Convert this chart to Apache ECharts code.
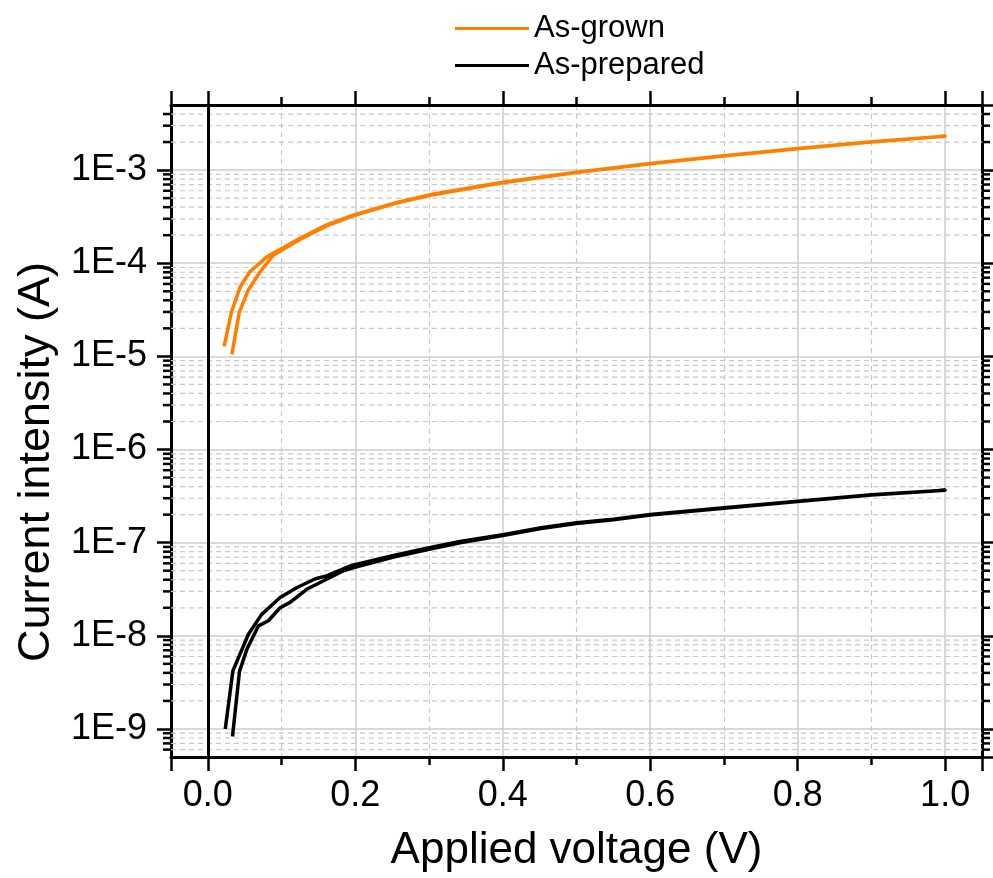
<!DOCTYPE html>
<html><head><meta charset="utf-8">
<script src="https://cdn.jsdelivr.net/npm/echarts@6/dist/echarts.min.js"></script>
<style>html,body{margin:0;padding:0;background:#fff}#c{width:993px;height:878px}</style>
</head><body><div id="c"></div>
<script>
// As-grown sweep (forward branch then return branch)
const asGrownV = [0.022, 0.032, 0.044, 0.057, 0.080, 0.125, 0.161, 0.198, 0.252, 0.306, 0.342, 0.40, 0.50, 0.60, 0.70, 0.80, 0.90, 1.00,
                  1.00, 0.90, 0.80, 0.70, 0.60, 0.50, 0.40, 0.342, 0.306, 0.252, 0.198, 0.161, 0.125, 0.089, 0.071, 0.055, 0.0425, 0.0326];
const asGrownI = [1.28e-5, 3.0e-5, 5.6e-5, 8.1e-5, 1.17e-4, 1.85e-4, 2.58e-4, 3.3e-4, 4.4e-4, 5.55e-4, 6.2e-4, 7.4e-4, 9.5e-4, 1.18e-3, 1.43e-3, 1.71e-3, 2.01e-3, 2.31e-3,
                  2.29e-3, 2.0e-3, 1.70e-3, 1.42e-3, 1.17e-3, 9.4e-4, 7.3e-4, 6.1e-4, 5.45e-4, 4.35e-4, 3.25e-4, 2.52e-4, 1.8e-4, 1.23e-4, 8.1e-5, 5.2e-5, 2.95e-5, 1.05e-5];
// As-prepared sweep
const asPreparedV = [0.0236, 0.0339, 0.055, 0.073, 0.098, 0.121, 0.146, 0.161, 0.195, 0.252, 0.297, 0.342, 0.40, 0.452, 0.50, 0.55, 0.60, 0.70, 0.80, 0.90, 1.00,
                     1.00, 0.90, 0.80, 0.70, 0.60, 0.55, 0.50, 0.452, 0.40, 0.342, 0.297, 0.252, 0.198, 0.184, 0.157, 0.134, 0.112, 0.098, 0.082, 0.0687, 0.053, 0.0429, 0.0334];
const asPreparedI = [1.0e-9, 4.2e-9, 1.04e-8, 1.7e-8, 2.58e-8, 3.3e-8, 4.1e-8, 4.4e-8, 5.7e-8, 7.3e-8, 8.7e-8, 1.03e-7, 1.22e-7, 1.45e-7, 1.64e-7, 1.78e-7, 2.01e-7, 2.37e-7, 2.79e-7, 3.27e-7, 3.66e-7,
                     3.64e-7, 3.24e-7, 2.76e-7, 2.34e-7, 1.98e-7, 1.76e-7, 1.61e-7, 1.42e-7, 1.19e-7, 1.0e-7, 8.4e-8, 7.0e-8, 5.4e-8, 5.0e-8, 3.9e-8, 3.16e-8, 2.3e-8, 2.0e-8, 1.45e-8, 1.28e-8, 7.2e-9, 4.15e-9, 8.3e-10];

const seriesNames = ['As-grown', 'As-prepared'];
const seriesColors = ['#ff8000', '#000000'];
const xRange = [-0.05, 1.05];
const yRange = [5e-10, 5e-3];
const minorMultipliers = [2, 3, 4, 5, 6, 7, 8, 9];
const decades = [-10, -9, -8, -7, -6, -5, -4, -3];

const yMinor = [];
decades.forEach(function (d) {
  minorMultipliers.forEach(function (k) {
    const v = k * Math.pow(10, d);
    if (v > yRange[0] && v < yRange[1]) yMinor.push([0.5, v]);
  });
});

const FONT = 'Liberation Sans';
const pairs = (xs, ys) => xs.map((x, i) => [x, ys[i]]);

const xAxisBase = {
  type: 'value', min: xRange[0], max: xRange[1],
  axisLine: { show: true, onZero: false, lineStyle: { color: '#000', width: 3 } },
  axisTick: { show: true, inside: false, length: 14, lineStyle: { color: '#000', width: 2.5 } },
  minorTick: { show: true, splitNumber: 2, length: 8, lineStyle: { color: '#000', width: 2.5 } }
};

const option = {
  animation: false,
  backgroundColor: '#fff',
  grid: { left: 171, right: 11, top: 105, bottom: 120 },
  legend: {
    data: seriesNames, orient: 'vertical', left: 450, top: 8,
    icon: 'rect', itemWidth: 74, itemHeight: 3, itemGap: 6,
    textStyle: { fontFamily: FONT, fontSize: 31, color: '#000', lineHeight: 31 }
  },
  xAxis: [
    Object.assign({}, xAxisBase, {
      position: 'bottom',
      name: 'Applied voltage (V)', nameLocation: 'middle', nameGap: 72,
      nameTextStyle: { fontFamily: FONT, fontSize: 44, color: '#000', lineHeight: 44 },
      axisLabel: { show: true, fontFamily: FONT, fontSize: 36, color: '#000', margin: 21, lineHeight: 36,
        showMinLabel: false, showMaxLabel: false, formatter: v => v.toFixed(1) },
      splitLine: { show: true, lineStyle: { color: '#cccccc', width: 1.5 } },
      minorSplitLine: { show: true, lineStyle: { color: '#c8c8c8', width: 1.2, type: [5, 4] } }
    }),
    Object.assign({}, xAxisBase, {
      position: 'top',
      axisLabel: { show: false }, splitLine: { show: false }, minorSplitLine: { show: false }
    })
  ],
  yAxis: [
    {
      type: 'log', logBase: 10, min: yRange[0], max: yRange[1], position: 'left',
      name: 'Current intensity (A)', nameLocation: 'middle', nameGap: 112,
      nameTextStyle: { fontFamily: FONT, fontSize: 45, color: '#000', lineHeight: 45, padding: [0, 62, 0, 0] },
      axisLine: { show: true, onZero: false, lineStyle: { color: '#000', width: 3 } },
      axisTick: { show: true, inside: false, length: 14, lineStyle: { color: '#000', width: 2.5 } },
      minorTick: { show: false },
      axisLabel: { show: true, fontFamily: FONT, fontSize: 36, color: '#000', margin: 24,
        showMinLabel: false, showMaxLabel: false,
        formatter: v => '1E' + Math.round(Math.log10(v)) },
      splitLine: { show: true, lineStyle: { color: '#cccccc', width: 1.5 } },
      minorSplitLine: { show: false }
    },
    {
      type: 'log', logBase: 10, min: yRange[0], max: yRange[1], position: 'right',
      axisLine: { show: true, onZero: false, lineStyle: { color: '#000', width: 3 } },
      axisTick: { show: true, inside: false, length: 14, lineStyle: { color: '#000', width: 2.5 } },
      axisLabel: { show: false }, splitLine: { show: false }
    }
  ],
  series: [
    {
      type: 'custom', name: 'minorGrid', z: 1, silent: true, clip: false,
      xAxisIndex: 0, yAxisIndex: 0,
      encode: { x: 0, y: 1 },
      data: yMinor,
      renderItem: function (params, api) {
        const cs = params.coordSys;
        const y = api.coord([0, api.value(1)])[1];
        return { type: 'group', children: [
          { type: 'line', shape: { x1: cs.x, y1: y, x2: cs.x + cs.width, y2: y },
            style: { stroke: '#c8c8c8', lineWidth: 1.2, lineDash: [5, 4] } },
          { type: 'line', shape: { x1: cs.x - 8, y1: y, x2: cs.x, y2: y },
            style: { stroke: '#000', lineWidth: 2.5 } },
          { type: 'line', shape: { x1: cs.x + cs.width, y1: y, x2: cs.x + cs.width + 8, y2: y },
            style: { stroke: '#000', lineWidth: 2.5 } }
        ] };
      }
    },
    {
      type: 'line', name: seriesNames[0], data: pairs(asGrownV, asGrownI),
      color: seriesColors[0], showSymbol: false, symbol: 'none', z: 3,
      lineStyle: { color: seriesColors[0], width: 3.5, join: 'round' }
    },
    {
      type: 'line', name: seriesNames[1], data: pairs(asPreparedV, asPreparedI),
      color: seriesColors[1], showSymbol: false, symbol: 'none', z: 3,
      lineStyle: { color: seriesColors[1], width: 3.5, join: 'round' },
      markLine: {
        silent: true, symbol: 'none', label: { show: false },
        lineStyle: { color: '#000', width: 3, type: 'solid' },
        data: [{ xAxis: 0 }]
      }
    }
  ]
};

const chart = echarts.init(document.getElementById('c'), null, { renderer: 'canvas' });
chart.setOption(option);
</script>
</body></html>
